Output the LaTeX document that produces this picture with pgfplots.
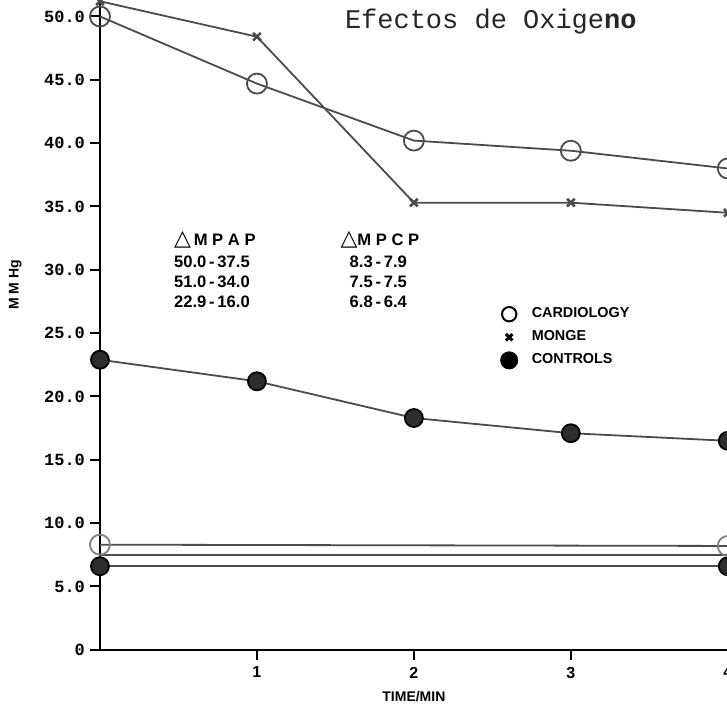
\documentclass[border=0pt]{standalone}
\usepackage{pgfplots}
\pgfplotsset{compat=1.18}
\usepackage{fontspec}
\setmainfont{Liberation Sans}
\newfontfamily\monofont{Liberation Mono}
\newfontfamily\symfont{DejaVu Sans}
\definecolor{lineg}{RGB}{75,75,75}
\definecolor{ctrl}{RGB}{45,45,45}
\begin{document}
\begin{tikzpicture}
\begin{axis}[
  scale only axis, width=314pt, height=325pt,
  xmin=0, xmax=4, ymin=0, ymax=51.3,
  axis lines=left,
  axis line style={-, black, line width=1.2pt},
  clip=false,
  /pgf/number format/assume math mode=true,
  xtick={1,2,3,4},
  xticklabels={1,2,3,4},
  ytick={0,5,10,15,20,25,30,35,40,45,50},
  yticklabels={0,5.0,10.0,15.0,20.0,25.0,30.0,35.0,40.0,45.0,50.0},
  tick align=outside, major tick length=5pt,
  tick style={black, line width=1pt},
  yticklabel style={font=\monofont\bfseries\fontsize{8.5}{10}\selectfont, xshift=1pt},
  xticklabel style={font=\bfseries\fontsize{8}{9}\selectfont},
  legend style={draw=none, fill=none, at={(axis cs:2.55,27.2)}, anchor=north west,
    font=\bfseries\fontsize{7.2}{8}\selectfont, row sep=3pt, inner sep=0pt,
    nodes={inner sep=1pt}},
  legend cell align=left,
  legend image code/.code={\draw[#1] plot coordinates {(0.12cm,0cm)};},
  legend style={/tikz/every odd column/.append style={column sep=6pt}},
]
\coordinate (O) at (axis cs:0,0);
\coordinate (TR) at (axis cs:3.995,51.3);

% MPAP series
\addplot[forget plot, lineg, line width=0.9pt, mark=o, mark size=5pt,
  mark options={fill=white, line width=0.9pt}]
  coordinates {(0,50.0)(1,44.7)(2,40.2)(3,39.4)(4,38.0)};
\addplot[forget plot, lineg, line width=0.9pt, mark=x, mark size=2.7pt,
  mark options={line width=1.3pt}]
  coordinates {(0,51.2)(1,48.4)(2,35.3)(3,35.3)(4,34.5)};
\addplot[forget plot, lineg, line width=0.9pt, mark=*, mark size=4.5pt,
  mark options={fill=ctrl, draw=black}]
  coordinates {(0,22.9)(1,21.2)(2,18.3)(3,17.1)(4,16.5)};

% MPCP series
\addplot[forget plot, lineg, line width=0.9pt]
  coordinates {(0,7.5)(4,7.5)};
\addplot[forget plot, lineg, line width=0.9pt, mark=*, mark size=4.5pt,
  mark options={fill=ctrl, draw=black}]
  coordinates {(0,6.6)(4,6.6)};
\addplot[forget plot, lineg, line width=0.9pt, mark=o, mark size=5pt,
  mark options={fill=white, line width=0.9pt, draw=gray}]
  coordinates {(0,8.3)(4,8.2)};

% legend
\addlegendimage{only marks, mark=o, mark size=3.6pt, black, line width=1pt}
\addlegendentry{CARDIOLOGY}
\addlegendimage{only marks, mark=x, mark size=2.3pt, black, line width=1.5pt}
\addlegendentry{MONGE}
\addlegendimage{only marks, mark=*, mark size=4.3pt, black}
\addlegendentry{CONTROLS}

% title and annotations
\node[font=\monofont\fontsize{13.5}{15}\selectfont, text=black!85] at (axis cs:2.49,49.6)
  {Efectos de Oxige\textbf{no}};
\node[font=\fontsize{8.3}{10}\selectfont\bfseries, align=left, anchor=north west, inner sep=0pt]
  at (axis cs:0.47,33.1)
  {{\symfont\fontsize{11}{10}\selectfont △}\,M\;P\;A\;P\\[1pt]50.0\,-\,37.5\\51.0\,-\,34.0\\22.9\,-\,16.0};
\node[font=\fontsize{8.3}{10}\selectfont\bfseries, align=left, anchor=north west, inner sep=0pt]
  at (axis cs:1.53,33.1)
  {{\symfont\fontsize{11}{10}\selectfont △}M\;P\;C\;P\\[1pt]\;\;8.3\,-\,7.9\\\;\;7.5\,-\,7.5\\\;\;6.8\,-\,6.4};
\node[font=\bfseries\fontsize{7}{8}\selectfont] at (axis cs:2,-3.7) {TIME/MIN};
\node[font=\bfseries\fontsize{7}{8}\selectfont, rotate=90] at (axis cs:-0.54,28.8) {M M Hg};
\end{axis}
\pgfresetboundingbox
\path[use as bounding box] ([xshift=-50pt,yshift=-28pt]O) rectangle (TR);
\end{tikzpicture}
\end{document}
